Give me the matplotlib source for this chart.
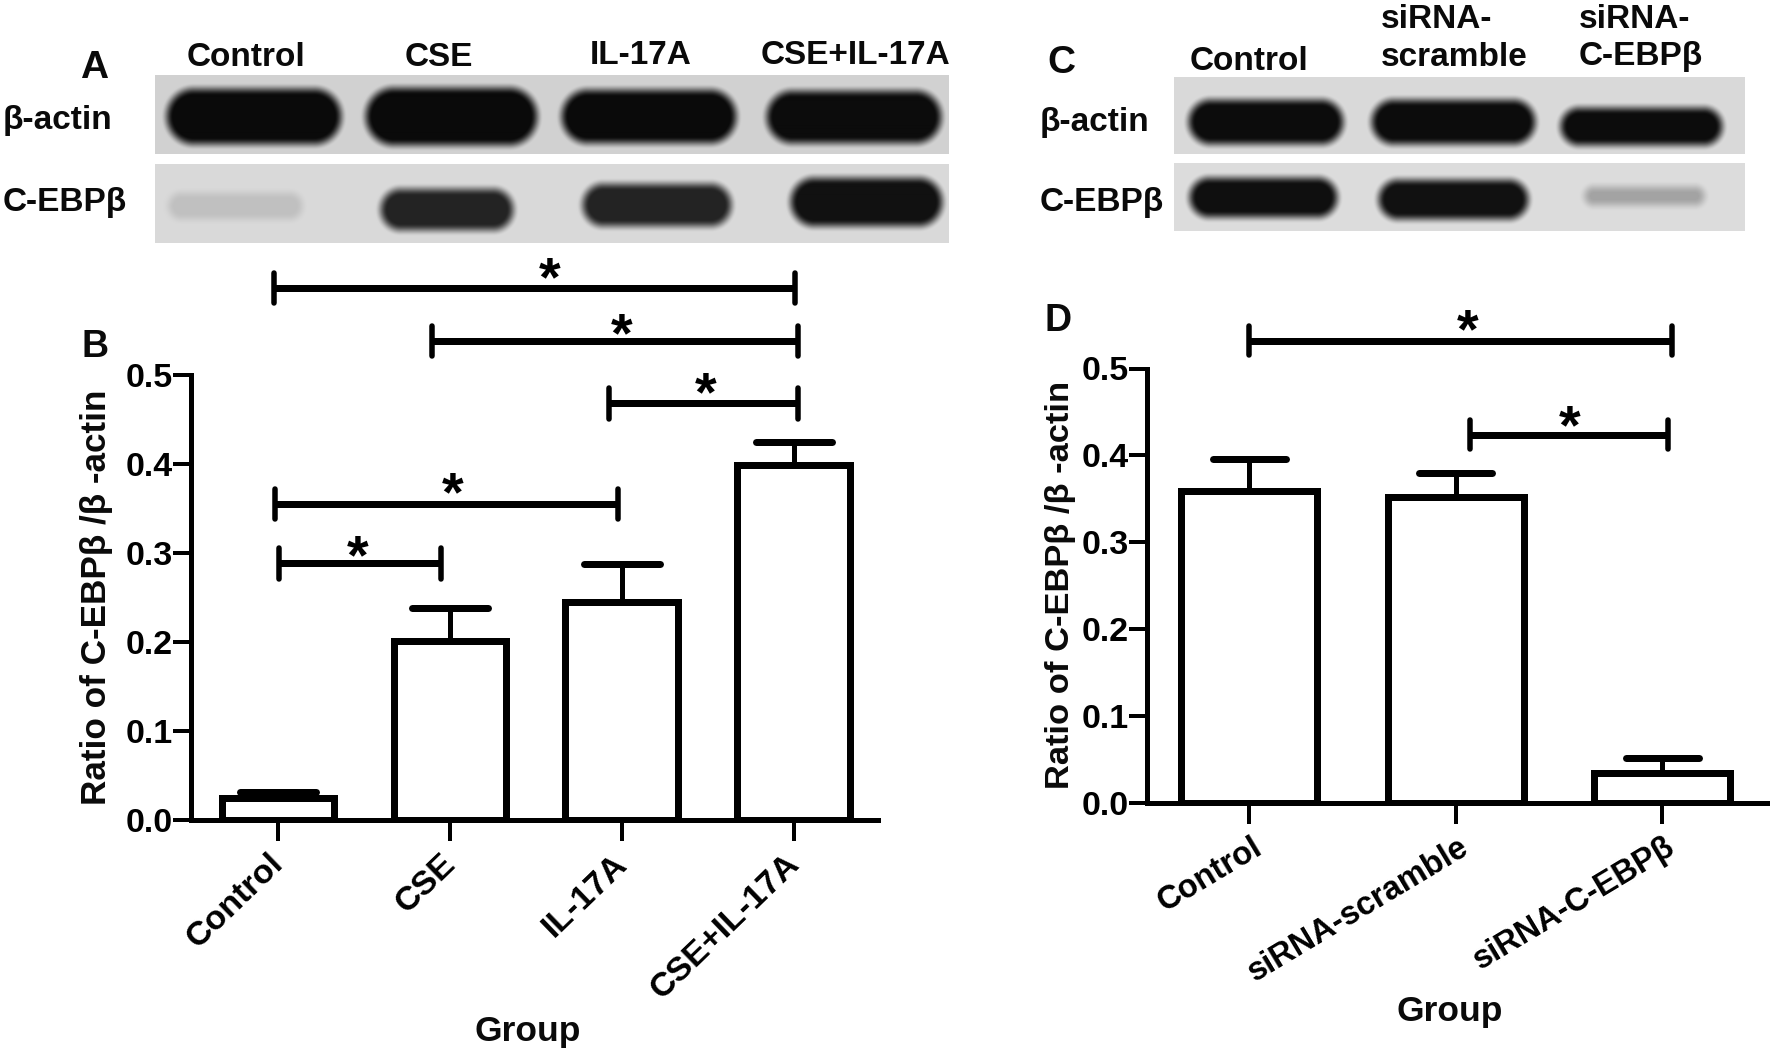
import numpy as np
import matplotlib
matplotlib.use("Agg")
import matplotlib.pyplot as plt
from matplotlib.transforms import ScaledTranslation

plt.rcParams['font.family'] = ['Liberation Sans', 'DejaVu Sans']
plt.rcParams['font.weight'] = 'bold'

W, H = 1770, 1052
PX = 0.72  # one pixel in points at dpi 100

# --- panel B data ---
groups_b = ["Control", "CSE", "IL-17A", "CSE+IL-17A"]
means_b = [0.024, 0.201, 0.245, 0.399]
tops_b = [0.031, 0.238, 0.287, 0.425]
br_start_b = [-0.02, 0.895, 1.925, -0.015, 0.004]
br_end_b = [3.005, 3.026, 3.026, 1.98, 0.947]
br_level_b = [0.598, 0.538, 0.468, 0.355, 0.288]
star_x_b = [1.58, 2.0, 2.49, 1.017, 0.465]
star_y_b = [0.606, 0.542, 0.476, 0.364, 0.293]

# --- panel D data ---
groups_d = ["Control", "siRNA-scramble", "siRNA-C-EBP\u03b2"]
means_d = [0.359, 0.352, 0.034]
tops_d = [0.396, 0.38, 0.052]
br_start_d = [0.0, 1.068]
br_end_d = [2.05, 2.028]
br_level_d = [0.532, 0.424]
star_x_d = [1.059, 1.55]
star_y_d = [0.54, 0.43]

y_ticks = [0.0, 0.1, 0.2, 0.3, 0.4, 0.5]
y_label = "Ratio of C-EBP\u03b2 /\u03b2 -actin"

# --- blots: (x0, x1, y0, y1, darkness) in pixels of the figure ---
blot_a1 = (155, 949, 75, 154, 0.82)
blot_a2 = (155, 949, 164, 243, 0.85)
blot_c1 = (1174, 1745, 77, 154, 0.85)
blot_c2 = (1174, 1745, 163, 231, 0.86)
bands_a1 = [(167, 341, 90, 144, 0.04), (366, 537, 89, 145, 0.04),
            (562, 736, 91, 143, 0.04), (767, 941, 92, 143, 0.05)]
bands_a2 = [(169, 302, 194, 219, 0.75), (381, 513, 190, 230, 0.14),
            (583, 731, 185, 226, 0.14), (791, 942, 179, 226, 0.07)]
bands_c1 = [(1189, 1343, 100, 144, 0.05), (1372, 1535, 100, 144, 0.05),
            (1561, 1722, 108, 145, 0.05)]
bands_c2 = [(1190, 1337, 178, 217, 0.06), (1379, 1528, 180, 219, 0.07),
            (1585, 1704, 187, 205, 0.64)]


def px_rect(x0, x1, y0, y1):
    return [x0 / W, 1 - y1 / H, (x1 - x0) / W, (y1 - y0) / H]


def label(x, y, s, size=24, ha='center', rotation=0):
    fig.text(x / W, 1 - y / H, s, fontsize=size, fontweight='bold', ha=ha,
             va='center', rotation=rotation, color='#0a0a0a')


def draw_blot(box, bands):
    x0, x1, y0, y1, bg = box
    xx, yy = np.meshgrid(np.arange(x0, x1) + 0.5, np.arange(y0, y1) + 0.5)
    img = np.full(xx.shape, bg)
    for bx0, bx1, by0, by1, dark in bands:
        r = (by1 - by0) / 2
        cx, cy = (bx0 + bx1) / 2, (by0 + by1) / 2
        qx = np.abs(xx - cx) - ((bx1 - bx0) / 2 - r)
        qy = np.abs(yy - cy)
        d = np.hypot(np.maximum(qx, 0), qy) - r
        t = np.clip(0.5 - d / 13, 0, 1)
        img = np.minimum(img, bg + (dark - bg) * t * t * (3 - 2 * t))
    ax = fig.add_axes(px_rect(x0, x1, y0, y1))
    ax.imshow(img, cmap='gray', vmin=0, vmax=1, aspect='auto')
    ax.axis('off')


def draw_bars(rect, xlim, groups, means, tops, bar_w, cap_w, rot, tick_size, shift,
              starts, ends, levels, stars, star_y, cap_h):
    ax = fig.add_axes(rect)
    x = np.arange(len(groups))
    ax.bar(x, means, width=bar_w, facecolor='white', edgecolor='black',
           linewidth=7 * PX, zorder=3)
    ax.vlines(x, means, tops, color='black', linewidth=5 * PX, zorder=2)
    ax.hlines(tops, x - cap_w / 2, x + cap_w / 2, color='black',
              linewidth=7 * PX, capstyle='round', zorder=2)
    for s, e, lv, st, sy in zip(starts, ends, levels, stars, star_y):
        ax.plot([s, e], [lv, lv], color='black', lw=7 * PX, clip_on=False,
                solid_capstyle='butt')
        ax.vlines([s, e], lv - cap_h, lv + cap_h, color='black', lw=5.5 * PX,
                  capstyle='round', clip_on=False)
        ax.text(st, sy, "*", fontsize=40, fontweight='bold',
                ha='center', va='center', clip_on=False)
    ax.set_xlim(*xlim)
    ax.set_ylim(0, 0.5)
    ax.set_yticks(y_ticks)
    ax.set_yticklabels([f"{v:.1f}" for v in y_ticks], fontsize=24.5, fontweight='bold')
    ax.set_xticks(x)
    ax.set_xticklabels(groups, fontsize=tick_size, fontweight='bold', rotation=rot,
                       ha='right', va='top', rotation_mode='anchor')
    ax.tick_params(axis='y', length=13, width=4 * PX, pad=0)
    ax.tick_params(axis='x', length=15, width=4 * PX, pad=10)
    # move the slanted labels a little, as in the original figure
    off = ScaledTranslation(shift[0] / 100, shift[1] / 100, fig.dpi_scale_trans)
    for t in ax.get_xticklabels():
        t.set_transform(t.get_transform() + off)
    for side in ('top', 'right'):
        ax.spines[side].set_visible(False)
    for side in ('left', 'bottom'):
        ax.spines[side].set_linewidth(5 * PX)
    ax.patch.set_alpha(0)
    return ax


fig = plt.figure(figsize=(W / 100, H / 100), dpi=100, facecolor='white')

draw_blot(blot_a1, bands_a1)
draw_blot(blot_a2, bands_a2)
draw_blot(blot_c1, bands_c1)
draw_blot(blot_c2, bands_c2)

draw_bars(px_rect(190.7, 878, 375, 819.5), (-0.507, 3.49), groups_b, means_b, tops_b,
          0.655, 0.44, 44, 24.5, (-10, 6), br_start_b, br_end_b, br_level_b,
          star_x_b, star_y_b, 0.017)
draw_bars(px_rect(1146.6, 1767, 368.5, 803), (-0.498, 2.508), groups_d, means_d, tops_d,
          0.66, 0.355, 31, 23.5, (2, 6), br_start_d, br_end_d, br_level_d,
          star_x_d, star_y_d, 0.017)

# panel letters
label(94, 68, "A", 28)
label(95, 347, "B", 27)
label(1061, 63, "C", 28)
label(1058, 321, "D", 27)

# blot headers
label(246, 58, "Control")
label(439, 58, "CSE")
label(641, 56, "IL-17A")
label(855, 55, "CSE+IL-17A")
label(1249, 62, "Control")
label(1381, 20, "siRNA-", ha='left')
label(1381, 57, "scramble", ha='left')
label(1579, 20, "siRNA-", ha='left')
label(1579, 57, "C-EBP\u03b2", ha='left')

# blot row names
label(3, 121, "\u03b2-actin", ha='left')
label(3, 202, "C-EBP\u03b2", ha='left')
label(1040, 122, "\u03b2-actin", ha='left')
label(1040, 202, "C-EBP\u03b2", ha='left')

# axis titles
label(97, 597, y_label, 25.3, rotation=90)
label(1061, 585, y_label, 24.8, rotation=90)
label(528, 1031, "Group", 25.5)
label(1450, 1012, "Group", 25.5)

fig.savefig("out.png", dpi=100)
